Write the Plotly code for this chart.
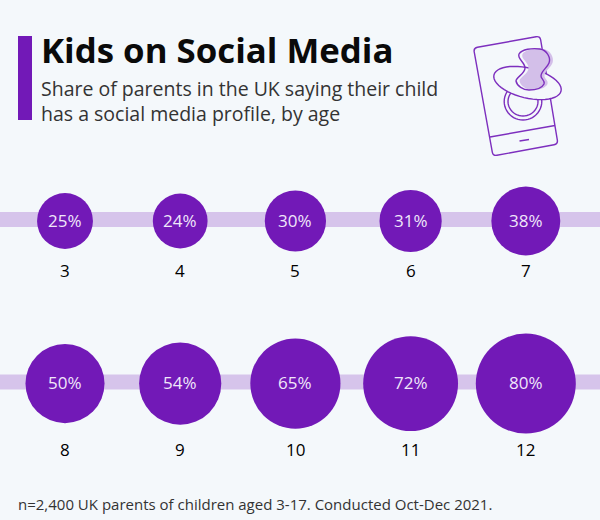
import math
import plotly.graph_objects as go

ages_top = ["3", "4", "5", "6", "7"]
values_top = [25, 24, 30, 31, 38]
ages_bottom = ["8", "9", "10", "11", "12"]
values_bottom = [50, 54, 65, 72, 80]
title = "Kids on Social Media"
subtitle = "Share of parents in the UK saying their child<br>has a social media profile, by age"
footer = "n=2,400 UK parents of children aged 3-17. Conducted Oct-Dec 2021."

W, H = 600, 520
BG = "#f4f8fb"
PURPLE = "#7219b7"
BAND = "#d6c4eb"
LAV = "#d3bfe9"
STROKE = "#7d2fbe"
TXT = "#333333"
LABEL = "#f0e6fa"
FONT = "Open Sans"
MAXD = 100.0
MAXV = max(values_bottom)
ROW_PX = 162.6


def px(x, y):
    return f"{x / W:.5f},{1 - y / H:.5f}"


def poly(points, close=False):
    s = "M" + " L".join(px(*p) for p in points)
    return s + (" Z" if close else "")


def curve(start, segs, close=True):
    s = "M" + px(*start)
    for a, b, c in segs:
        s += " C" + " ".join(px(*p) for p in (a, b, c))
    return s + (" Z" if close else "")


def ellipse(cx, cy, rx, ry, deg):
    n = 48
    t = math.radians(deg)
    pts = []
    for i in range(n):
        a = 2 * math.pi * i / n
        x, y = rx * math.cos(a), ry * math.sin(a)
        pts.append((cx + x * math.cos(t) - y * math.sin(t), cy + x * math.sin(t) + y * math.cos(t)))
    return poly(pts, True)


def rounded(corners, r):
    s = ""
    n = len(corners)
    for i, p in enumerate(corners):
        prev, nxt = corners[i - 1], corners[(i + 1) % n]
        d1 = math.dist(p, prev)
        d2 = math.dist(p, nxt)
        a = (p[0] + (prev[0] - p[0]) * r / d1, p[1] + (prev[1] - p[1]) * r / d1)
        b = (p[0] + (nxt[0] - p[0]) * r / d2, p[1] + (nxt[1] - p[1]) * r / d2)
        s += ("M" if i == 0 else " L") + px(*a) + " Q" + px(*p) + " " + px(*b)
    return s + " Z"


def nipple(dx=0, dy=0):
    P = lambda x, y: (x + dx, y + dy)
    return curve(P(519, 54), [
        (P(522, 49), P(532, 48), P(540, 49)),
        (P(547, 50), P(551, 58), P(549, 63)),
        (P(547, 68), P(541, 71), P(541, 76)),
        (P(541, 79), P(545, 80), P(544, 84)),
        (P(542, 88), P(536, 90), P(529, 90)),
        (P(523, 90), P(517, 86), P(516, 81)),
        (P(516, 77), P(525, 74), P(525, 68)),
        (P(525, 62), P(517, 59), P(519, 54)),
    ])


line = dict(color=STROKE, width=1.4)


def shp(path, **kw):
    d = dict(type="path", xref="paper", yref="paper", path=path, line=line)
    d.update(kw)
    return d


rows = [(0, ages_top, values_top, 49), (1, ages_bottom, values_bottom, 65.4)]

fig = go.Figure()
shapes = []
annotations = []
for row, ages, vals, shift in rows:
    band_y = row - 1.5 / ROW_PX
    shapes.append(dict(type="line", xref="paper", yref="y", x0=0, x1=1, y0=band_y, y1=band_y,
                       line=dict(color=BAND, width=15), layer="below"))
    xs = list(range(len(vals)))
    fig.add_trace(go.Scatter(
        x=xs, y=[row] * len(vals), mode="markers",
        marker=dict(size=vals, sizemode="area", sizeref=2 * MAXV / MAXD ** 2, sizemin=1,
                    color=PURPLE, opacity=1, line=dict(width=0)),
        hoverinfo="skip", showlegend=False, cliponaxis=False,
    ))
    for x, a, v in zip(xs, ages, vals):
        annotations.append(dict(x=x, y=row, xref="x", yref="y", text=f"{v}%", showarrow=False,
                                yshift=1, xanchor="center", yanchor="middle",
                                font=dict(family=FONT, size=17, color=LABEL)))
        annotations.append(dict(x=x, y=row, xref="x", yref="y", text=a, showarrow=False,
                                yshift=-shift, xanchor="center", yanchor="middle",
                                font=dict(family=FONT, size=17, color="#000000")))

# header accent bar
shapes.append(dict(type="rect", xref="paper", yref="paper", x0=18 / W, x1=32 / W,
                   y0=1 - 120 / H, y1=1 - 36 / H, fillcolor=PURPLE, line=dict(width=0)))

# phone + pacifier icon
shapes += [
    shp(rounded([(473.5, 48), (540, 36), (558, 144), (493, 156)], 4)),
    shp(poly([(490, 137), (555, 125.5)])),
    shp(poly([(519.5, 141), (529, 139.5)])),
    shp(ellipse(523, 101.5, 18.8, 18.5, 0)),
    shp(ellipse(523, 101.5, 15, 14.5, 0)),
    shp(ellipse(527.5, 83, 34.5, 15, 13.5), fillcolor=BG),
    shp(nipple(3.5, 0), fillcolor=LAV, line=dict(width=0)),
    shp(nipple()),
]

annotations += [
    dict(x=39 / W, y=1 - 50 / H, xref="paper", yref="paper", text=f"<b>{title}</b>", showarrow=False,
         xanchor="left", yanchor="middle", font=dict(family=FONT, size=34.8, color="#0a0a0a")),
    dict(x=39 / W, y=1 - 101 / H, xref="paper", yref="paper", text=subtitle, showarrow=False,
         xanchor="left", yanchor="middle", align="left",
         font=dict(family=FONT, size=19.5, color=TXT)),
    dict(x=16 / W, y=1 - 504 / H, xref="paper", yref="paper", text=footer, showarrow=False,
         xanchor="left", yanchor="middle", font=dict(family=FONT, size=15, color=TXT)),
]

fig.update_layout(
    width=W, height=H, margin=dict(l=0, r=0, t=0, b=0),
    paper_bgcolor=BG, plot_bgcolor=BG, showlegend=False,
    shapes=shapes, annotations=annotations,
    xaxis=dict(range=[-0.5642, 4.644], visible=False, fixedrange=True),
    yaxis=dict(range=[1.8389, -1.3592], visible=False, fixedrange=True),
)
fig.write_html("out.html", config={"displayModeBar": False},
               post_script="document.body.style.margin='0';document.documentElement.style.overflow='hidden';document.documentElement.style.background='#f4f8fb';")
